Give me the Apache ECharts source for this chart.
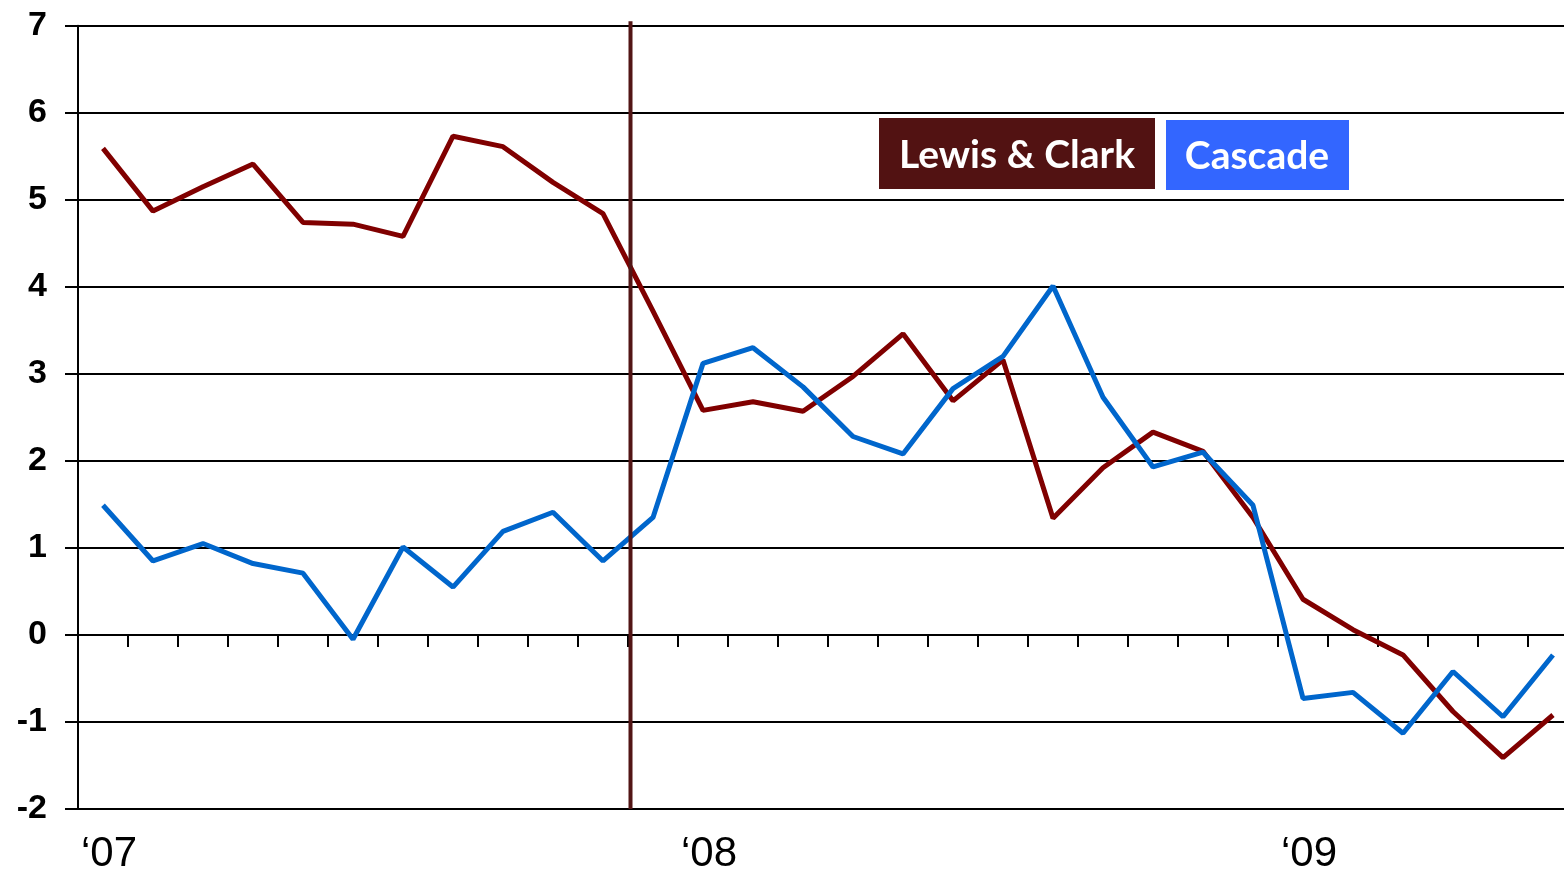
<!DOCTYPE html>
<html>
<head>
<meta charset="utf-8">
<script src="https://cdn.jsdelivr.net/npm/echarts@6/dist/echarts.min.js"></script>
<style>
  html, body { margin: 0; padding: 0; background: #fff; }
  #main { width: 1564px; height: 875px; }
</style>
</head>
<body>
<div id="main"></div>
<script>
// monthly points, Jan '07 .. Jun '09
var months = [
  "Jan 07", "Feb 07", "Mar 07", "Apr 07", "May 07", "Jun 07",
  "Jul 07", "Aug 07", "Sep 07", "Oct 07", "Nov 07", "Dec 07",
  "Jan 08", "Feb 08", "Mar 08", "Apr 08", "May 08", "Jun 08",
  "Jul 08", "Aug 08", "Sep 08", "Oct 08", "Nov 08", "Dec 08",
  "Jan 09", "Feb 09", "Mar 09", "Apr 09", "May 09", "Jun 09"
];
// year labels shown under January
var yearLabels = { "Jan 07": "\u201807", "Jan 08": "\u201808", "Jan 09": "\u201809" };

var lewisClark = [
  5.59, 4.87, 5.15, 5.41, 4.74, 4.72, 4.58, 5.73, 5.61, 5.20,
  4.84, 3.72, 2.58, 2.68, 2.57, 2.97, 3.46, 2.69, 3.16, 1.34,
  1.92, 2.33, 2.11, 1.35, 0.41, 0.06, -0.23, -0.88, -1.41, -0.92
];
var cascade = [
  1.49, 0.85, 1.05, 0.82, 0.71, -0.05, 1.01, 0.55, 1.19, 1.41,
  0.85, 1.35, 3.12, 3.30, 2.85, 2.28, 2.08, 2.83, 3.20, 4.01,
  2.73, 1.93, 2.10, 1.49, -0.73, -0.66, -1.13, -0.42, -0.94, -0.23
];
var yTicks = { min: -2, max: 7, step: 1 };
// vertical marker, in month index units (mid Nov '07), and its top
var markerAt = 10.55;
var markerTop = 7.05;

var myChart = echarts.init(document.getElementById("main"));
myChart.setOption({
  animation: false,
  grid: {
    left: 78,
    right: -14,
    top: 25.7,
    bottom: 66,
    outerBoundsMode: "none"
  },
  xAxis: [
    {
      // zero line with tick marks
      type: "category",
      data: months,
      position: "top",
      boundaryGap: true,
      axisLine: { onZero: true, lineStyle: { color: "#000", width: 2 } },
      axisTick: { show: true, inside: true, interval: 0, length: 12, lineStyle: { color: "#000", width: 2 } },
      axisLabel: { show: false },
      splitLine: { show: false }
    },
    {
      // year labels along the bottom
      type: "category",
      data: months,
      position: "bottom",
      boundaryGap: true,
      axisLine: { show: false, onZero: false },
      axisTick: { show: false },
      axisLabel: {
        interval: 0,
        margin: 24,
        fontFamily: "'Liberation Sans Narrow', 'Arial Narrow', 'Liberation Sans', sans-serif",
        fontSize: 42,
        color: "#000",
        padding: [0, 0, 0, 12],
        formatter: function (v) { return yearLabels[v] || ""; }
      },
      splitLine: { show: false }
    },
    {
      // helper axis for the vertical marker
      type: "value",
      min: -0.5,
      max: months.length - 0.5,
      show: false
    }
  ],
  yAxis: {
    type: "value",
    min: yTicks.min,
    max: yTicks.max,
    interval: yTicks.step,
    axisLine: { show: true, onZero: false, lineStyle: { color: "#000", width: 2 } },
    axisTick: { show: true, length: 13, lineStyle: { color: "#000", width: 2 } },
    axisLabel: {
      margin: 31,
      fontFamily: "'Liberation Sans', Arial, sans-serif",
      fontWeight: "bold",
      fontSize: 34,
      color: "#000"
    },
    splitLine: { show: true, lineStyle: { color: "#000", width: 2 } }
  },
  series: [
    {
      name: "Lewis & Clark",
      type: "line",
      data: lewisClark,
      xAxisIndex: 0,
      symbol: "none",
      lineStyle: { color: "#800000", width: 5 },
      z: 3
    },
    {
      name: "Cascade",
      type: "line",
      data: cascade,
      xAxisIndex: 0,
      symbol: "none",
      lineStyle: { color: "#0066cc", width: 5 },
      z: 4
    },
    {
      name: "marker",
      type: "line",
      xAxisIndex: 2,
      data: [[markerAt, markerTop], [markerAt, yTicks.min]],
      symbol: "none",
      clip: false,
      silent: true,
      lineStyle: { color: "#521515", width: 4 },
      z: 5
    }
  ],
  graphic: [
    {
      type: "group",
      left: 879,
      top: 118,
      children: [
        { type: "rect", shape: { x: 0, y: 0, width: 276, height: 71 }, style: { fill: "#521212" } },
        {
          type: "text", x: 138, y: 37,
          style: {
            text: "Lewis & Clark", fill: "#fff", align: "center", verticalAlign: "middle",
            font: "bold 39px Lato, 'Open Sans', sans-serif"
          }
        }
      ]
    },
    {
      type: "group",
      left: 1166,
      top: 120,
      children: [
        { type: "rect", shape: { x: 0, y: 0, width: 183, height: 70 }, style: { fill: "#3366ff" } },
        {
          type: "text", x: 91, y: 36,
          style: {
            text: "Cascade", fill: "#fff", align: "center", verticalAlign: "middle",
            font: "bold 39px Lato, 'Open Sans', sans-serif"
          }
        }
      ]
    }
  ]
});
</script>
</body>
</html>
